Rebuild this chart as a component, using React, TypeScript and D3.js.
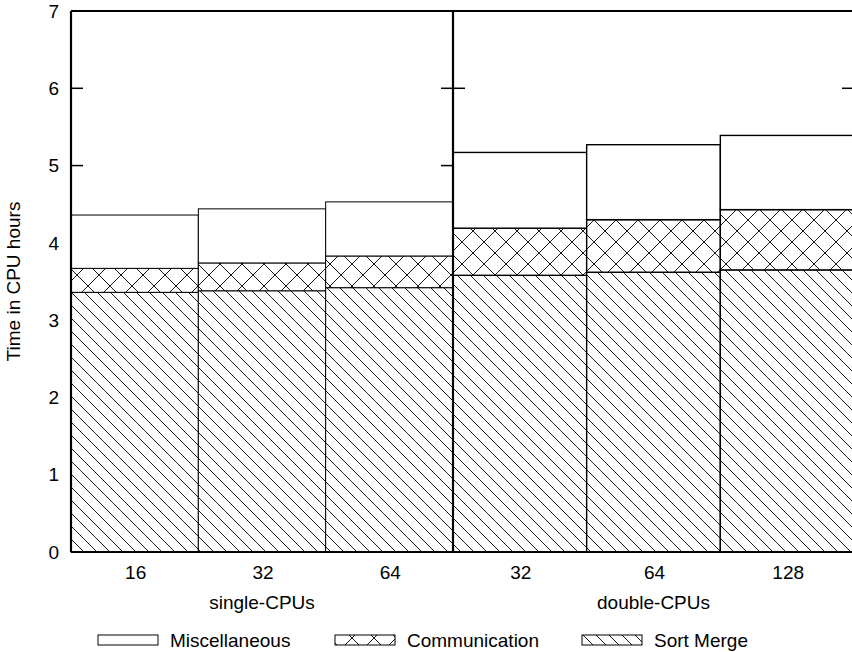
import React from 'react';
import * as d3 from 'd3';

// valores (horas de CPU)
const singleCpus = ['16', '32', '64'];
const doubleCpus = ['32', '64', '128'];
const groupLabels = ['single-CPUs', 'double-CPUs'];
const sortMerge = [3.36, 3.38, 3.42, 3.58, 3.62, 3.65];
const communication = [0.31, 0.36, 0.41, 0.61, 0.68, 0.78];
const miscellaneous = [0.69, 0.7, 0.7, 0.98, 0.97, 0.96];
const seriesNames = ['Miscellaneous', 'Communication', 'Sort Merge'];
const yTickValues = [0, 1, 2, 3, 4, 5, 6, 7];

const W = 852;
const H = 652;
const margin = { top: 11, left: 71, right: -2, bottom: 100 };
const divX = 453;
const font = 'Liberation Sans, Arial, Helvetica, sans-serif';
const fs = 19;

const App = () => {
  const y = d3.scaleLinear().domain([0, 7]).range([H - margin.bottom, margin.top]);
  const xSingle = d3.scaleBand().domain(singleCpus).range([margin.left, divX]).padding(0);
  const xDouble = d3.scaleBand().domain(doubleCpus).range([divX, W - margin.right]).padding(0);
  const right = W - margin.right;

  const bars = [
    ...singleCpus.map((c, i) => ({ key: 's' + c, x: xSingle(c)!, w: xSingle.bandwidth(), i, label: c, sw: 1 })),
    ...doubleCpus.map((c, j) => ({ key: 'd' + c, x: xDouble(c)!, w: xDouble.bandwidth(), i: j + 3, label: c, sw: 1.4 })),
  ];

  const fills = ['url(#hatchSort)', 'url(#hatchComm)', 'white'];

  return (
    <svg width={W} height={H} style={{ position: 'absolute', left: 0, top: 0, background: 'white' }} fontFamily={font}>
      <defs>
        <pattern id="hatchSort" patternUnits="userSpaceOnUse" width={13} height={13}>
          <rect width={13} height={13} fill="white" />
          <path d="M0,0L13,13M-2,11L2,15M11,-2L15,2" stroke="black" strokeWidth={0.9} />
        </pattern>
        <pattern id="hatchComm" patternUnits="userSpaceOnUse" width={22} height={22}>
          <rect width={22} height={22} fill="white" />
          <path d="M0,0L22,22M22,0L0,22" stroke="black" strokeWidth={0.9} />
        </pattern>
      </defs>

      {/* ticks (bajo las barras) */}
      {yTickValues.map(t => (
        <g key={'t' + t} stroke="black" strokeWidth={1.5}>
          <line x1={margin.left} x2={margin.left + 12} y1={y(t)} y2={y(t)} />
          <line x1={divX - 12} x2={divX + 12} y1={y(t)} y2={y(t)} />
          <line x1={right - 12} x2={right} y1={y(t)} y2={y(t)} />
        </g>
      ))}

      {/* barras apiladas */}
      {bars.map(b => {
        const segs = [sortMerge[b.i], communication[b.i], miscellaneous[b.i]];
        let base = 0;
        return (
          <g key={b.key}>
            {segs.map((v, k) => {
              const y0 = y(base);
              const y1 = y(base + v);
              base += v;
              return (
                <rect key={k} x={b.x} y={y1} width={b.w} height={y0 - y1}
                  fill={fills[k]} stroke="black" strokeWidth={b.sw} />
              );
            })}
          </g>
        );
      })}

      {/* marco */}
      <g stroke="black" strokeWidth={2.2} fill="none">
        <line x1={margin.left} x2={right} y1={margin.top} y2={margin.top} />
        <line x1={margin.left} x2={right} y1={y(0)} y2={y(0)} />
        <line x1={margin.left} x2={margin.left} y1={margin.top} y2={y(0)} />
        <line x1={divX} x2={divX} y1={margin.top} y2={y(0)} />
        <line x1={right} x2={right} y1={margin.top} y2={y(0)} />
      </g>

      {/* etiquetas eje y */}
      {yTickValues.map(t => (
        <text key={'l' + t} x={59} y={y(t)} dy="0.35em" textAnchor="end" fontSize={fs}>{t}</text>
      ))}
      <text transform={`translate(20,${(margin.top + y(0)) / 2}) rotate(-90)`} textAnchor="middle" fontSize={fs}>
        Time in CPU hours
      </text>

      {/* etiquetas eje x */}
      {bars.map(b => (
        <text key={'x' + b.key} x={b.x + b.w / 2 + 1} y={572} dy="0.35em" textAnchor="middle" fontSize={fs}>{b.label}</text>
      ))}
      <text x={(xSingle(singleCpus[1])! + xSingle.bandwidth() / 2)} y={602} dy="0.35em" textAnchor="middle" fontSize={fs}>{groupLabels[0]}</text>
      <text x={(xDouble(doubleCpus[1])! + xDouble.bandwidth() / 2)} y={602} dy="0.35em" textAnchor="middle" fontSize={fs}>{groupLabels[1]}</text>

      {/* leyenda */}
      {seriesNames.map((name, k) => {
        const lx = [98, 335, 582][k];
        const fill = ['white', 'url(#hatchComm)', 'url(#hatchSort)'][k];
        return (
          <g key={name}>
            <rect x={lx} y={635} width={60} height={10} fill={fill} stroke="black" strokeWidth={1} />
            <text x={lx + 72} y={640} dy="0.35em" fontSize={fs}>{name}</text>
          </g>
        );
      })}
    </svg>
  );
};

export default App;
